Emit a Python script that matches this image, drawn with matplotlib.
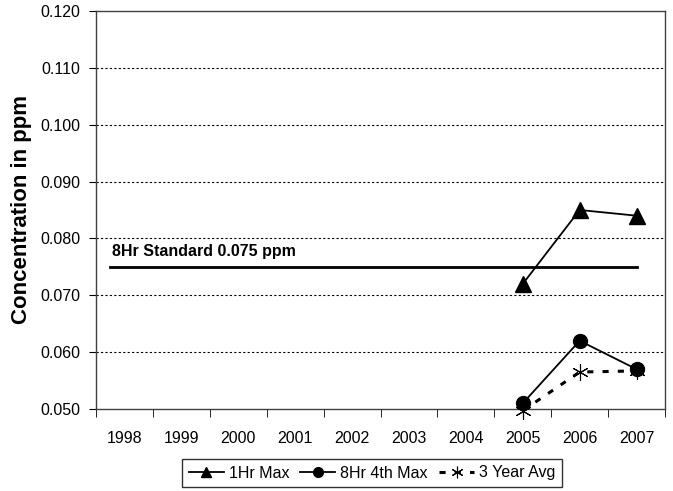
import matplotlib.pyplot as plt
from matplotlib.ticker import FixedLocator

plt.rcParams['font.family'] = ['Liberation Sans', 'DejaVu Sans']

years = ['1998', '1999', '2000', '2001', '2002', '2003', '2004', '2005', '2006', '2007']
hr1_max = [None] * 7 + [0.072, 0.085, 0.084]
hr8_4th = [None] * 7 + [0.051, 0.062, 0.057]
avg_3yr = [None] * 7 + [0.0497, 0.0565, 0.0567]
standard = 0.075

x = list(range(len(years)))

def pts(vals):
    xs = [i for i, v in zip(x, vals) if v is not None]
    ys = [v for v in vals if v is not None]
    return xs, ys

fig = plt.figure(figsize=(6.73, 4.91), dpi=100)
ax = fig.add_axes([96 / 673, 1 - 409 / 491, 569 / 673, 398 / 491])

ax.set_xlim(-0.5, 9.5)
ax.set_ylim(0.050, 0.120)

for v in [0.06, 0.07, 0.08, 0.09, 0.10, 0.11]:
    ax.axhline(v, color='black', lw=0.8, ls=(0, (2, 2)), zorder=1)

ax.plot([-0.25, 9], [standard, standard], color='black', lw=2, zorder=2)
ax.text(-0.22, standard + 0.0014, '8Hr Standard 0.075 ppm', fontsize=11.5,
        fontweight='bold', ha='left', va='bottom')

xs, ys = pts(hr1_max)
ax.plot(xs, ys, color='black', lw=1.3, marker='^', ms=11, label='1Hr Max', zorder=4)
xs, ys = pts(avg_3yr)
ax.plot(xs, ys, color='black', lw=2.2, ls=(0, (2, 3)), marker=(6, 2, 0), ms=12,
        mew=0.8, label='3 Year Avg', zorder=3, clip_on=False)
xs, ys = pts(hr8_4th)
ax.plot(xs, ys, color='black', lw=1.3, marker='o', ms=10, label='8Hr 4th Max', zorder=4,
        clip_on=False)

ax.set_xticks(x)
ax.set_xticklabels(years, fontsize=11.5)
ax.xaxis.set_minor_locator(FixedLocator([i + 0.5 for i in range(-1, 10)]))
ax.tick_params(axis='x', which='major', length=0, pad=16)
ax.tick_params(axis='x', which='minor', length=6, direction='out')
ax.set_yticks([0.05, 0.06, 0.07, 0.08, 0.09, 0.10, 0.11, 0.12])
ax.set_yticklabels(['%.3f' % v for v in ax.get_yticks()], fontsize=11.5)
ax.tick_params(axis='y', length=5, direction='out', pad=6)

for s in ax.spines.values():
    s.set_linewidth(1)
    s.set_color('#404040')

ax.set_ylabel('Concentration in ppm', fontsize=16, fontweight='bold', labelpad=6)

handles, labels = ax.get_legend_handles_labels()
order = [labels.index('1Hr Max'), labels.index('8Hr 4th Max'), labels.index('3 Year Avg')]
leg = fig.legend([handles[i] for i in order], [labels[i] for i in order],
                 loc='center', bbox_to_anchor=(372 / 673, 1 - 473 / 491), ncol=3,
                 fontsize=11.5, frameon=True, fancybox=False, edgecolor='black',
                 handlelength=2.2, handletextpad=0.3, columnspacing=0.7,
                 borderpad=0.4, borderaxespad=0, markerscale=0.7)
leg.get_frame().set_linewidth(1)

fig.savefig('out.png', dpi=100)
